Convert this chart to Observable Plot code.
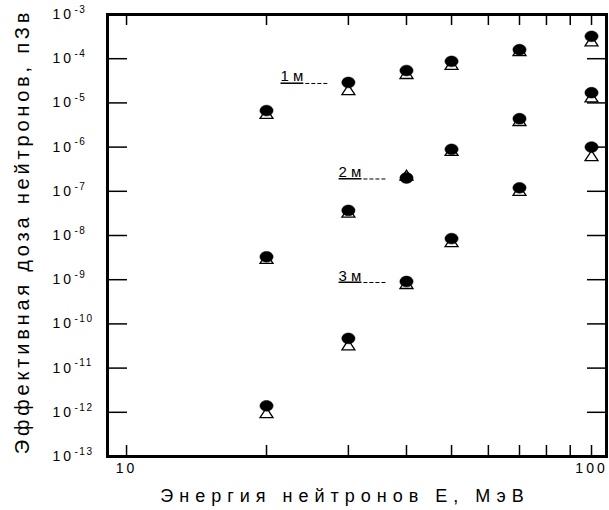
<!DOCTYPE html>
<html><head><meta charset="utf-8">
<script src="https://cdn.jsdelivr.net/npm/d3@7"></script>
<script src="https://cdn.jsdelivr.net/npm/@observablehq/plot@0.6"></script>
<style>body{margin:0;background:#fff} svg{font-family:"Liberation Sans",Arial,sans-serif}</style>
</head><body><div id="chart"></div>
<script>
// Neutron energy, MeV
const energies = [20, 30, 40, 50, 70, 100];
// Effective dose, pSv — filled dots and open triangles, for 1 m, 2 m, 3 m
const dot1m = [6.7e-6, 2.9e-5, 5.4e-5, 8.7e-5, 1.6e-4, 3.2e-4];
const tri1m = [5.5e-6, 1.9e-5, 4.4e-5, 7.1e-5, 1.45e-4, 2.4e-4];
const dot2m = [3.3e-9, 3.7e-8, 2.0e-7, 8.9e-7, 4.4e-6, 1.7e-5];
const tri2m = [2.9e-9, 3.2e-8, 2.2e-7, 8.0e-7, 3.8e-6, 1.3e-5];
const dot3m = [1.4e-12, 4.7e-11, 9.1e-10, 8.5e-9, 1.2e-7, 1.0e-6];
const tri3m = [9.3e-13, 3.2e-11, 7.8e-10, 6.9e-9, 1.0e-7, 6.1e-7];

const seriesLabels = ["1 м", "2 м", "3 м"];
const annotAnchorIndex = [1, 2, 2];

const yTickExponents = [-3, -4, -5, -6, -7, -8, -9, -10, -11, -12, -13];
const xTicks = [10, 20, 30, 40, 50, 60, 70, 80, 90, 100];
const xTickLabels = [10, 100];

const xLabel = "Энергия нейтронов Е, МэВ";
const yLabel = "Эффективная доза нейтронов, пЗв";

const dotSeries = [dot1m, dot2m, dot3m];
const triSeries = [tri1m, tri2m, tri3m];
const dots = dotSeries.flatMap(s => s.map((v, i) => ({E: energies[i], v})));
const tris = triSeries.flatMap(s => s.map((v, i) => ({E: energies[i], v})));
const annots = seriesLabels.map((t, k) => ({t, E: energies[annotAnchorIndex[k]], v: dotSeries[k][annotAnchorIndex[k]]}));

const ellipse = {draw(ctx, size) {
  const r = Math.sqrt(size / Math.PI), rx = r * 1.1, ry = r * 0.9, k = 0.5523;
  ctx.moveTo(rx, 0);
  ctx.bezierCurveTo(rx, ry * k, rx * k, ry, 0, ry);
  ctx.bezierCurveTo(-rx * k, ry, -rx, ry * k, -rx, 0);
  ctx.bezierCurveTo(-rx, -ry * k, -rx * k, -ry, 0, -ry);
  ctx.bezierCurveTo(rx * k, -ry, rx, -ry * k, rx, 0);
  ctx.closePath();
}};
const triangle = {draw(ctx, size) {
  const r = Math.sqrt(size / Math.PI);
  ctx.moveTo(0, -r);
  ctx.lineTo(1.08 * r, 0.67 * r);
  ctx.lineTo(-1.08 * r, 0.67 * r);
  ctx.closePath();
}};

const W = 609, Hh = 510, mL = 107, mR = 3, mT = 14, mB = 54;
const PW = W - mL - mR, PH = Hh - mT - mB;

const chart = Plot.plot({
  width: W, height: Hh,
  marginLeft: mL, marginRight: mR, marginTop: mT, marginBottom: mB,
  x: {type: "log", domain: [9.10, 107.7], axis: null},
  y: {type: "log", domain: [1e-13, 1e-3], axis: null},
  marks: [
    Plot.tickY(yTickExponents, {y: e => 10 ** e, insetRight: PW - 20, strokeWidth: 1.5}),
    Plot.tickY(yTickExponents, {y: e => 10 ** e, insetLeft: PW - 19, strokeWidth: 1.5}),
    Plot.tickX(xTicks, {x: d => d, insetTop: PH - 11, strokeWidth: 1.5}),
    Plot.tickX(xTicks, {x: d => d, insetBottom: PH - 11, strokeWidth: 1.5}),
    Plot.frame({strokeWidth: 3}),
    Plot.text(yTickExponents, {y: e => 10 ** e, text: () => "10", frameAnchor: "left", dx: -55, textAnchor: "start", fontSize: 14}),
    Plot.text(yTickExponents, {y: e => 10 ** e, text: e => String(e), frameAnchor: "left", dx: -33, dy: -5, textAnchor: "start", fontSize: 10}),
    Plot.text(xTickLabels, {x: d => d, text: d => String(d), frameAnchor: "bottom", dy: 16, fontSize: 14}),
    Plot.text([xLabel], {frameAnchor: "bottom", dx: -12, dy: 45, fontSize: 18, textAnchor: "middle"}),
    Plot.text([yLabel], {frameAnchor: "left", dx: -85, dy: -4, rotate: -90, fontSize: 20, textAnchor: "middle"}),
    Plot.dot(tris, {x: "E", y: "v", symbol: triangle, r: 6, fill: "white", stroke: "black", strokeWidth: 1.3}),
    Plot.dot(dots, {x: "E", y: "v", symbol: ellipse, r: 6, fill: "black", stroke: "black", strokeWidth: 0.5}),
    Plot.ruleY(annots, {y: "v", x1: d => d.E * 0.81, x2: d => d.E * 0.91, dy: 1, strokeDasharray: "4,2", strokeWidth: 1}),
    Plot.text(annots, {x: d => d.E * 0.80, y: "v", text: "t", textAnchor: "end", lineAnchor: "bottom", dy: -1, fontSize: 15})
  ]
});

const s = d3.select(chart);
s.selectAll('g[font-size="14"] text').attr("letter-spacing", 3);
s.selectAll('g[font-size="10"] text').attr("letter-spacing", 1.5);
s.selectAll('g[font-size="18"] text').attr("letter-spacing", 6);
s.selectAll('g[font-size="20"] text').attr("letter-spacing", 3.8);
s.selectAll('g[font-size="15"] text').style("text-decoration", "underline");
document.getElementById("chart").appendChild(chart);
</script>
</body></html>
